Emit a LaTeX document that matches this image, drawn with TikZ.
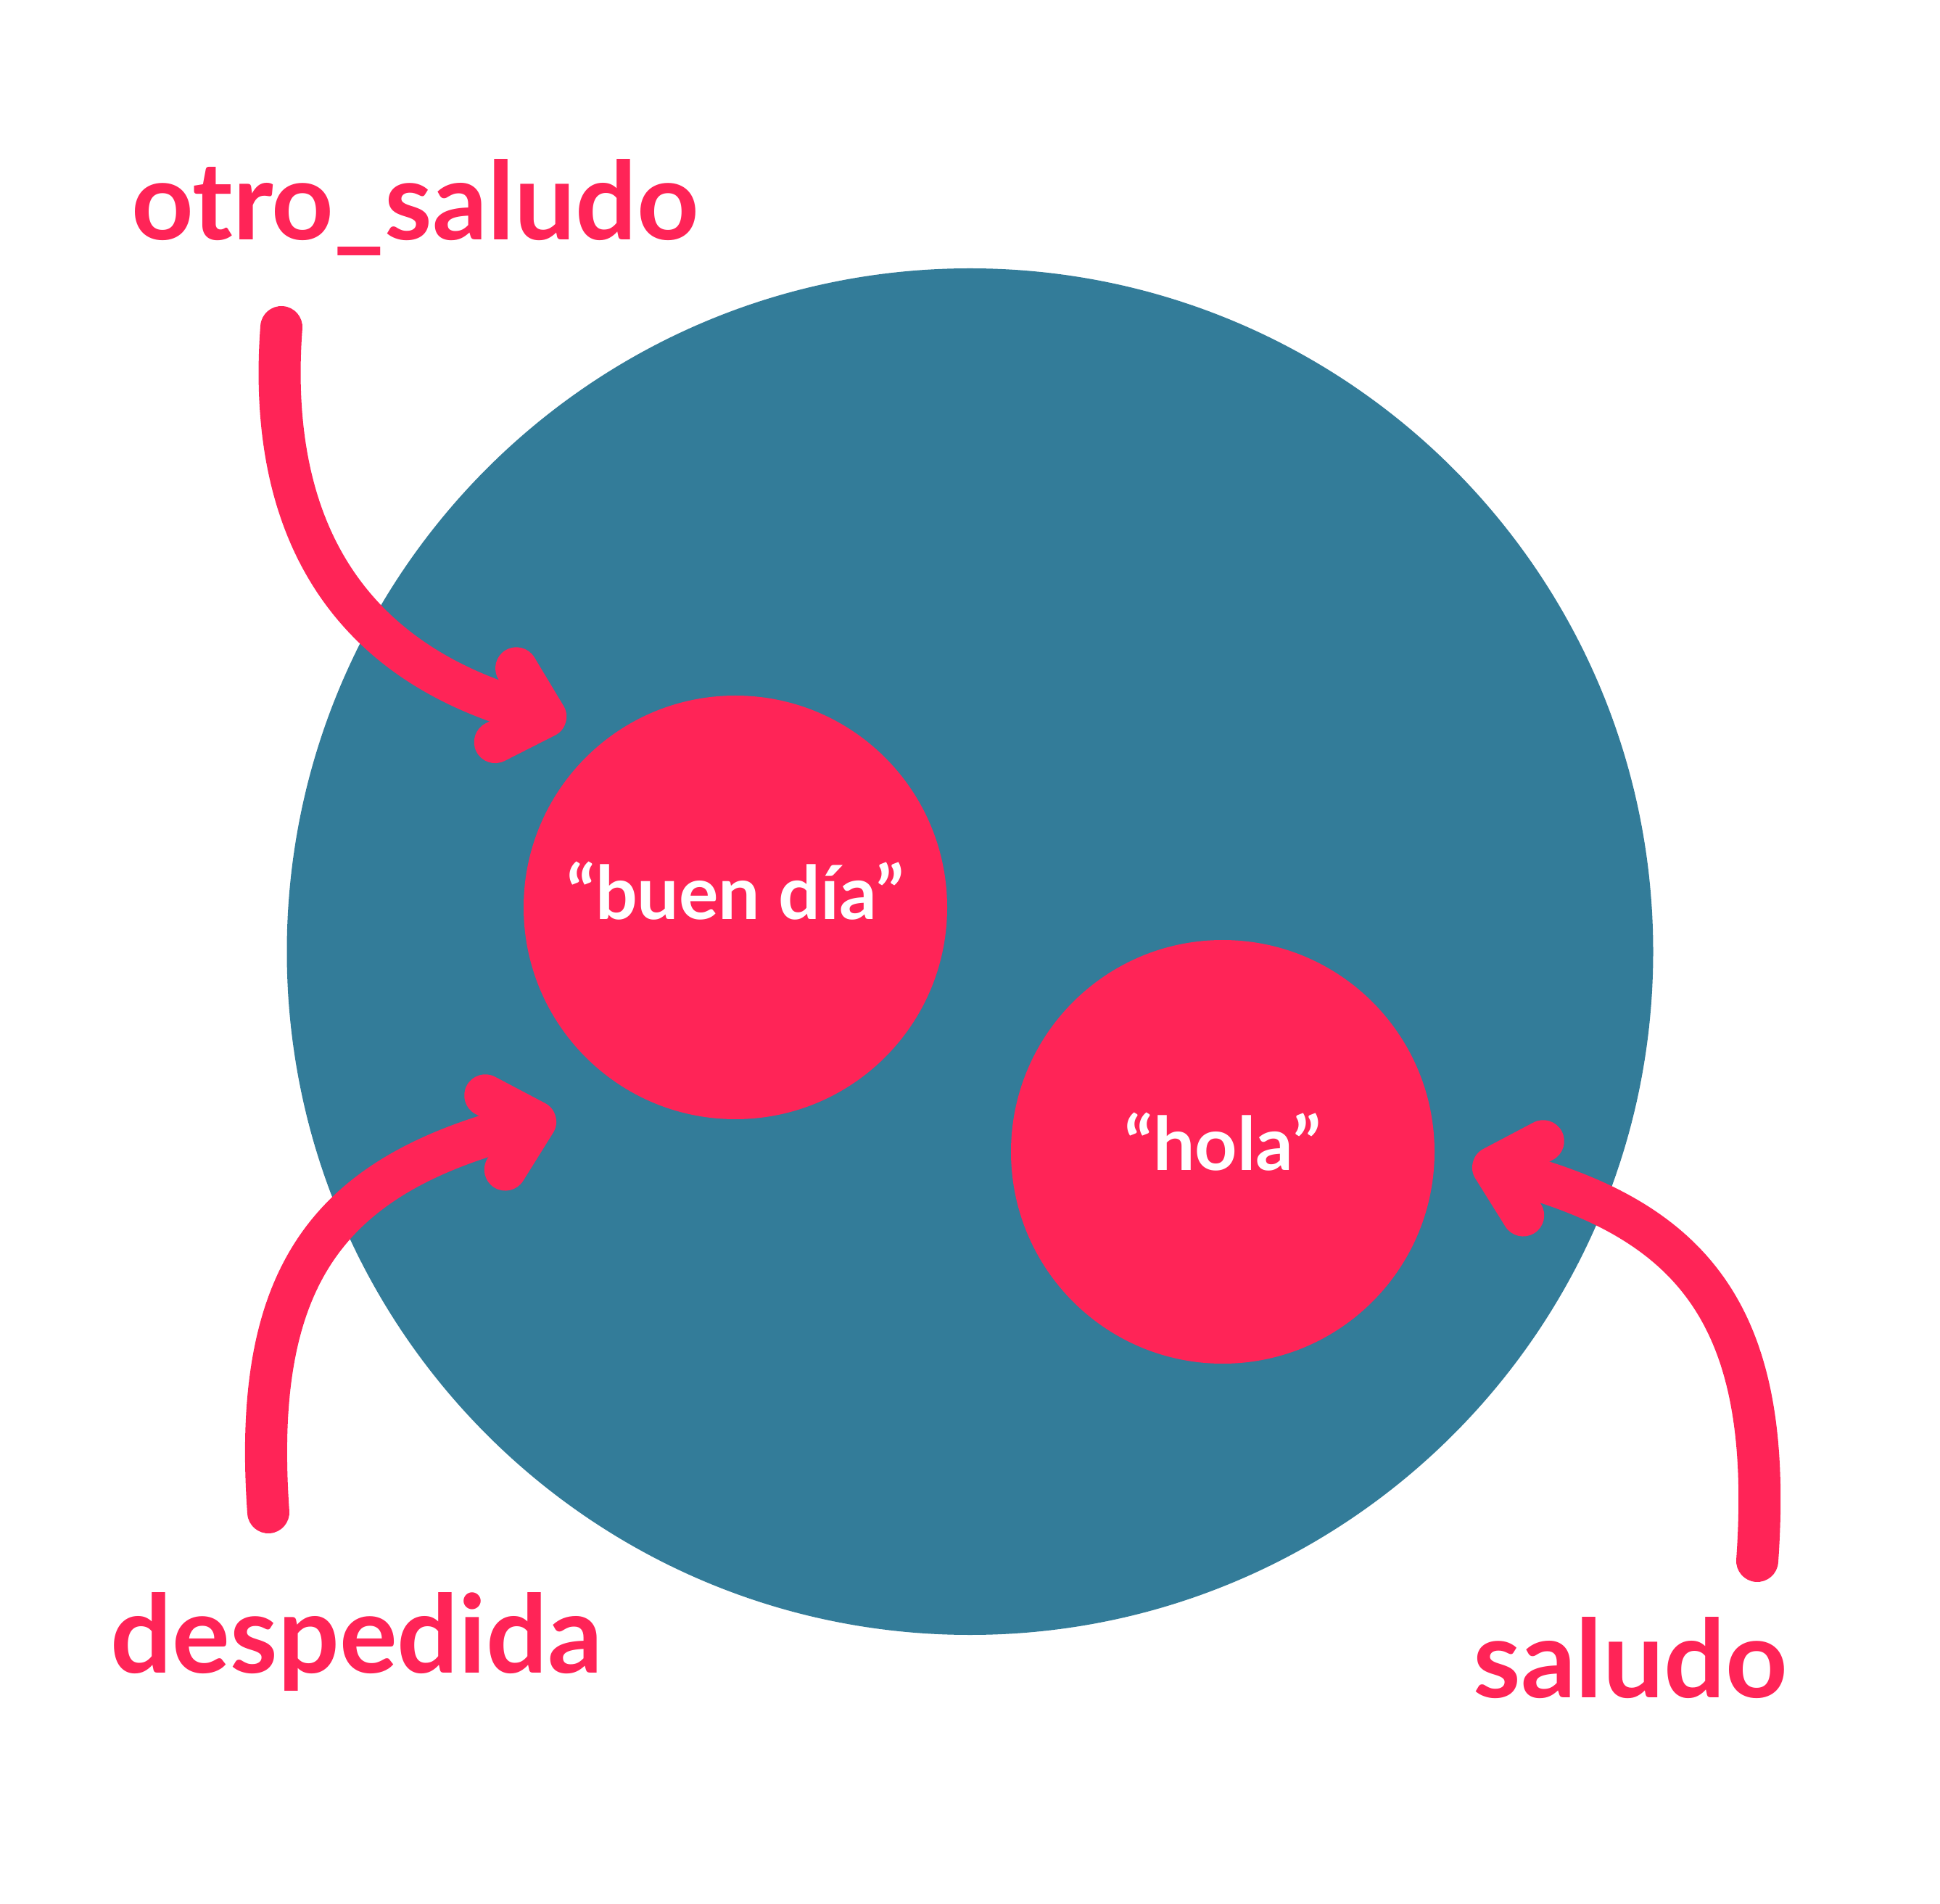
\documentclass[tikz,border=0pt]{standalone}
\usepackage{fontspec}
\setmainfont{Lato}
\usepackage{tikz}
\usetikzlibrary{arrows.meta,positioning}
\definecolor{conjunto}{HTML}{337C99}
\definecolor{rosa}{HTML}{FF2457}

\begin{document}
\begin{tikzpicture}[>={Straight Barb[length=5.7mm, width=10.6mm, line cap=round, line join=round]}, on grid,
  burbuja/.style={circle, fill=rosa, text=white, inner sep=0pt, minimum size=5.84cm, text depth=0pt,
    font=\fontsize{29}{34}\selectfont\bfseries},
  rotulo/.style={text=rosa, inner sep=0pt, anchor=base, font=\fontsize{42.5}{50}\selectfont\bfseries},
  flecha/.style={draw=rosa, line width=5.8mm, line cap=round, ->}]
\useasboundingbox[fill=white] (0,0) rectangle (26.75,-26.25);
\node[circle, fill=conjunto, inner sep=0pt, minimum size=18.84cm] (conj) at (13.375,-13.12) {};
\node[burbuja, text height=3.4mm] (buen) at (10.14,-12.51) {“buen día”};
\node[burbuja, text height=5.2mm, below right=3.37cm and 6.72cm of buen] (hola) {“hola”};

\node[rotulo] (otro) at (5.725,-3.31) {otro\_saludo};
\node[rotulo] (desp) at (4.92,-23.065) {despedida};
\node[rotulo] (sal) at (22.48,-23.405) {saludo};

\coordinate (a1) at (3.88,-4.51);
\coordinate (t1) at (7.80,-9.96);
\coordinate (a2) at (3.70,-20.85);
\coordinate (t2) at (7.66,-15.39);
\coordinate (a3) at (24.23,-21.52);
\coordinate (t3) at (20.31,-16.02);

\draw[flecha] (a1) .. controls +(-0.22,-2.95) and +(-2.85,0.82) .. (t1);
\draw[flecha] (a2) .. controls +(-0.23,3.25) and +(-3.15,-0.85) .. (t2);
\draw[flecha] (a3) .. controls +(0.23,3.25) and +(3.15,-0.85) .. (t3);
\end{tikzpicture}
\end{document}
